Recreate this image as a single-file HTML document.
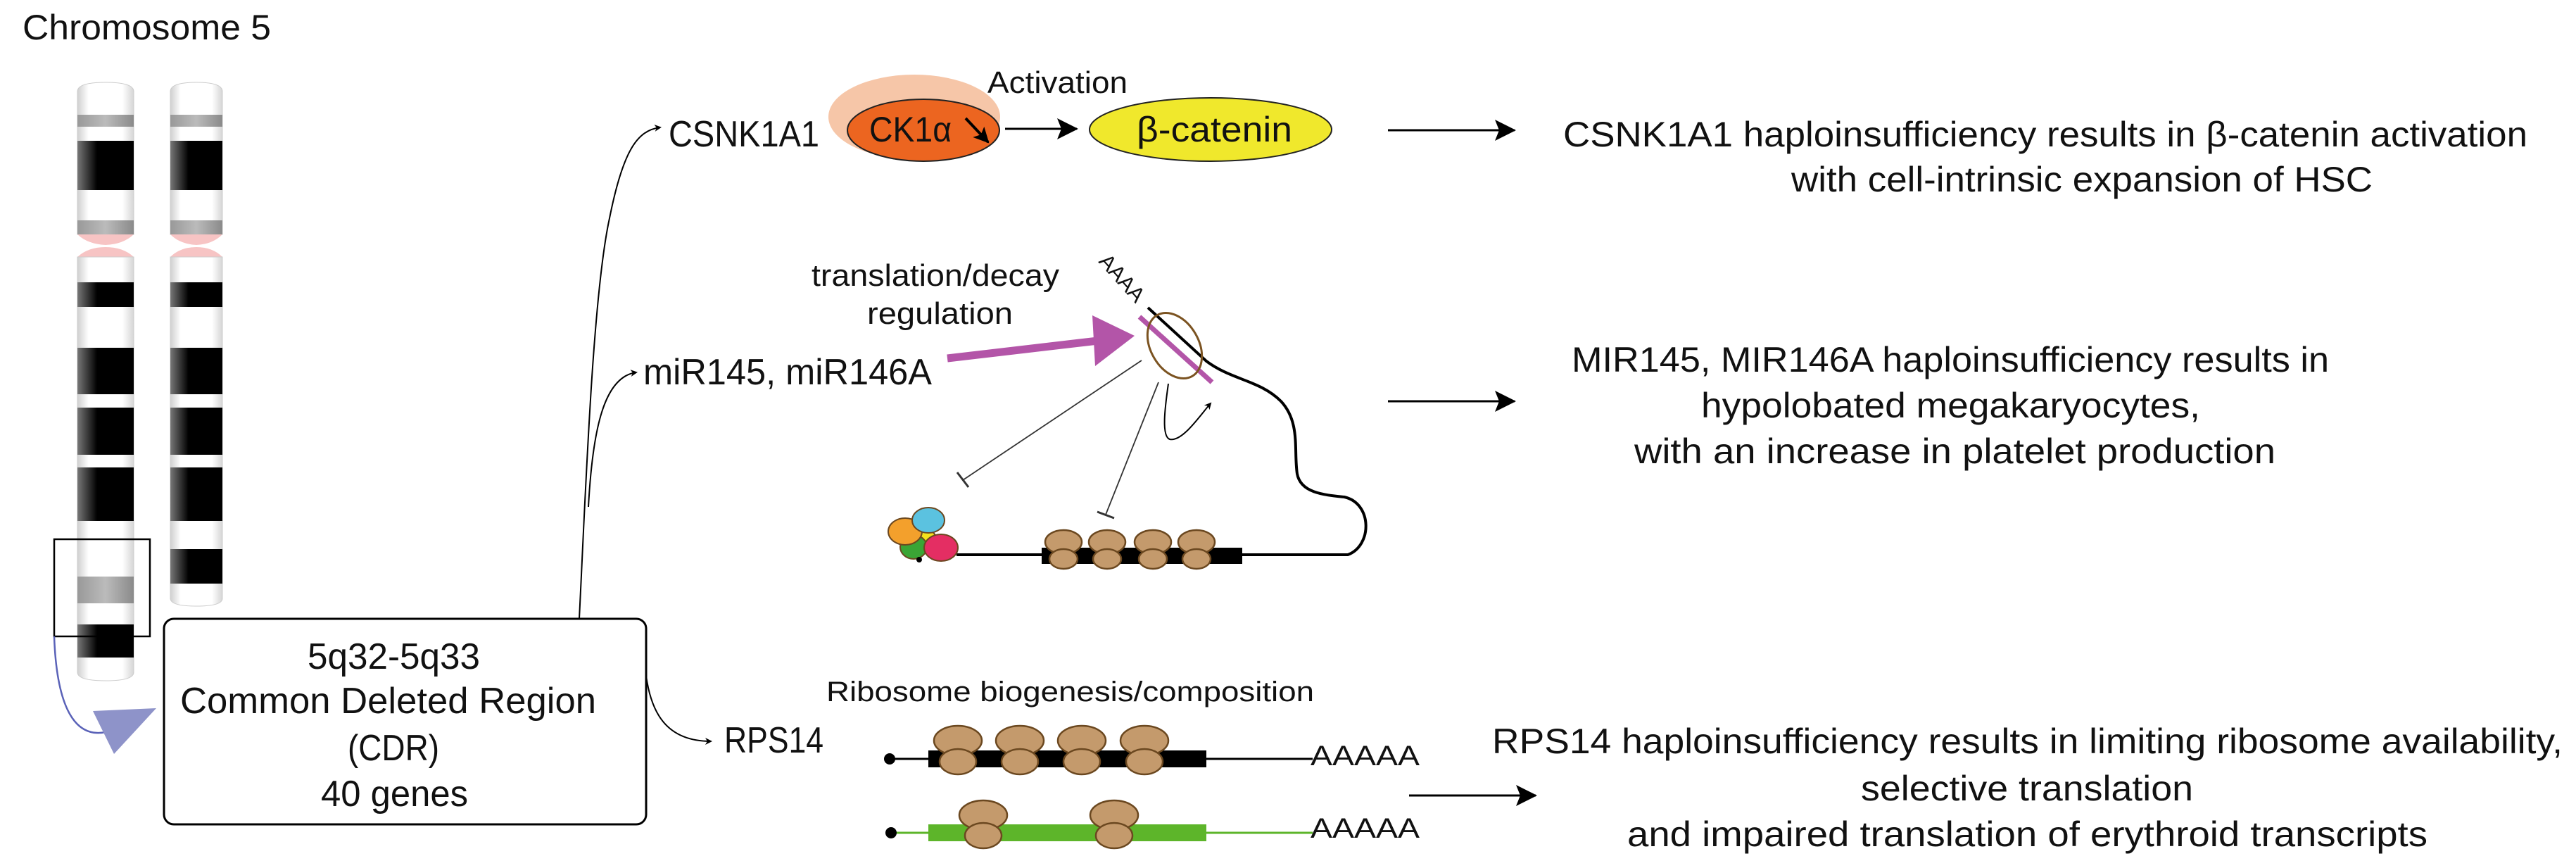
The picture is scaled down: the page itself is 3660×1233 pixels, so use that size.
<!DOCTYPE html>
<html><head><meta charset="utf-8"><style>
html,body{margin:0;padding:0;background:#fff;}
svg{display:block;}
text{font-family:"Liberation Sans",sans-serif;fill:#111;}
</style></head><body>
<svg width="3660" height="1233" viewBox="0 0 3660 1233" xmlns="http://www.w3.org/2000/svg">
<defs>
<linearGradient id="wg" x1="0" x2="1" y1="0" y2="0">
<stop offset="0" stop-color="#cfcfcf"/><stop offset="0.2" stop-color="#fff"/><stop offset="0.8" stop-color="#fff"/><stop offset="1" stop-color="#d5d5d5"/></linearGradient>
<linearGradient id="bg" x1="0" x2="1" y1="0" y2="0">
<stop offset="0" stop-color="#777"/><stop offset="0.35" stop-color="#000"/><stop offset="1" stop-color="#000"/></linearGradient>
<linearGradient id="gg" x1="0" x2="1" y1="0" y2="0">
<stop offset="0" stop-color="#999"/><stop offset="0.5" stop-color="#bbb"/><stop offset="1" stop-color="#8a8a8a"/></linearGradient>
<marker id="ah" markerWidth="10" markerHeight="10" refX="8" refY="5" orient="auto" markerUnits="userSpaceOnUse"><path d="M0,0 L10,5 L0,10 L3,5 z" fill="#000"/></marker>
<marker id="ah3" markerWidth="22" markerHeight="22" refX="20" refY="11" orient="auto" markerUnits="userSpaceOnUse"><path d="M0,0 L22,11 L0,22 L5,11 z" fill="#000"/></marker>
<marker id="ah2" markerWidth="30" markerHeight="30" refX="28" refY="15" orient="auto" markerUnits="userSpaceOnUse"><path d="M0,0 L30,15 L0,30 L6,15 z" fill="#000"/></marker>
</defs>

<text x="32" y="56" font-size="50" textLength="353" lengthAdjust="spacingAndGlyphs">Chromosome 5</text>

<g>
<path d="M110,130 Q110,117 150,117 Q190,117 190,130 L190,333 L110,333 Z" fill="url(#wg)" stroke="#ccc" stroke-width="1"/>
<rect x="110" y="163" width="80" height="17" fill="url(#gg)"/>
<rect x="110" y="200" width="80" height="70" fill="url(#bg)"/>
<rect x="110" y="313" width="80" height="20" fill="url(#gg)"/>
<path d="M110,333 L190,333 Q175,347 150,348 Q125,347 110,333 Z" fill="#f7c4c4"/>
<path d="M110,365 Q125,351 150,351 Q175,351 190,365 Z" fill="#f7c4c4"/>
<path d="M110,365 L190,365 L190,955 Q190,967 150,967 Q110,967 110,955 Z" fill="url(#wg)" stroke="#ccc" stroke-width="1"/>
<rect x="110" y="401" width="80" height="35" fill="url(#bg)"/>
<rect x="110" y="494" width="80" height="66" fill="url(#bg)"/>
<rect x="110" y="579" width="80" height="67" fill="url(#bg)"/>
<rect x="110" y="664" width="80" height="76" fill="url(#bg)"/>
<rect x="110" y="819" width="80" height="38" fill="url(#gg)"/>
<rect x="110" y="887" width="80" height="47" fill="url(#bg)"/>
</g>
<g>
<path d="M242,130 Q242,117 279,117 Q316,117 316,130 L316,333 L242,333 Z" fill="url(#wg)" stroke="#ccc" stroke-width="1"/>
<rect x="242" y="163" width="74" height="17" fill="url(#gg)"/>
<rect x="242" y="200" width="74" height="70" fill="url(#bg)"/>
<rect x="242" y="313" width="74" height="20" fill="url(#gg)"/>
<path d="M242,333 L316,333 Q302,347 279,348 Q256,347 242,333 Z" fill="#f7c4c4"/>
<path d="M242,365 Q256,351 279,351 Q302,351 316,365 Z" fill="#f7c4c4"/>
<path d="M242,365 L316,365 L316,850 Q316,861 279,861 Q242,861 242,850 Z" fill="url(#wg)" stroke="#ccc" stroke-width="1"/>
<rect x="242" y="401" width="74" height="35" fill="url(#bg)"/>
<rect x="242" y="494" width="74" height="66" fill="url(#bg)"/>
<rect x="242" y="579" width="74" height="67" fill="url(#bg)"/>
<rect x="242" y="664" width="74" height="76" fill="url(#bg)"/>
<rect x="242" y="780" width="74" height="49" fill="url(#bg)"/>
</g>
<rect x="77" y="766" width="136" height="138" fill="none" stroke="#000" stroke-width="2.5"/>
<path d="M77,904 C80,990 100,1050 150,1040" fill="none" stroke="#5a62b8" stroke-width="2.5"/>
<polygon points="132,1010 222,1006 162,1071" fill="#8e93c9"/>

<rect x="233" y="879" width="685" height="292" rx="14" fill="#fff" stroke="#000" stroke-width="3"/>
<text x="437" y="950" font-size="52" textLength="245" lengthAdjust="spacingAndGlyphs">5q32-5q33</text>
<text x="256" y="1013" font-size="52" textLength="591" lengthAdjust="spacingAndGlyphs">Common Deleted Region</text>
<text x="494" y="1080" font-size="52" textLength="130" lengthAdjust="spacingAndGlyphs">(CDR)</text>
<text x="456" y="1145" font-size="52" textLength="209" lengthAdjust="spacingAndGlyphs">40 genes</text>

<path d="M823,879 C832,700 842,420 866,310 C885,215 905,185 938,181" fill="none" stroke="#000" stroke-width="2" marker-end="url(#ah)"/>
<path d="M836,720 C842,610 858,535 904,529" fill="none" stroke="#000" stroke-width="2" marker-end="url(#ah)"/>
<path d="M918,960 C925,1010 945,1053 1010,1053" fill="none" stroke="#000" stroke-width="2" marker-end="url(#ah)"/>

<text x="950" y="208" font-size="52" textLength="214" lengthAdjust="spacingAndGlyphs">CSNK1A1</text>
<text x="914" y="546" font-size="52" textLength="410" lengthAdjust="spacingAndGlyphs">miR145, miR146A</text>
<text x="1029" y="1069" font-size="52" textLength="141" lengthAdjust="spacingAndGlyphs">RPS14</text>

<ellipse cx="1299" cy="166" rx="122" ry="60" fill="#f6c6a8"/>
<ellipse cx="1312" cy="185" rx="108" ry="44" fill="#ec6520" stroke="#222" stroke-width="2"/>
<text x="1235" y="201" font-size="50" textLength="117" lengthAdjust="spacingAndGlyphs">CK1α</text>
<path d="M1372,168 L1404,202" stroke="#000" stroke-width="4" marker-end="url(#ah3)"/>
<text x="1403" y="132" font-size="44" textLength="199" lengthAdjust="spacingAndGlyphs">Activation</text>
<path d="M1428,183 L1530,183" stroke="#000" stroke-width="3" marker-end="url(#ah2)"/>
<ellipse cx="1720" cy="184" rx="172" ry="45" fill="#f0e82c" stroke="#222" stroke-width="2"/>
<text x="1615" y="201" font-size="50" textLength="221" lengthAdjust="spacingAndGlyphs">β-catenin</text>

<text x="1153" y="406" font-size="44" textLength="352" lengthAdjust="spacingAndGlyphs">translation/decay</text>
<text x="1232" y="460" font-size="44" textLength="207" lengthAdjust="spacingAndGlyphs">regulation</text>
<line x1="1346" y1="509" x2="1560" y2="484" stroke="#b355a8" stroke-width="11"/>
<polygon points="1552,448 1612,477 1556,520" fill="#b355a8"/>
<text transform="translate(1560,372) rotate(48)" font-size="30" textLength="80" lengthAdjust="spacingAndGlyphs">AAAA</text>
<line x1="1619" y1="450" x2="1722" y2="543" stroke="#b355a8" stroke-width="7"/>
<path d="M1631,437 L1714,513 C1750,540 1790,540 1820,570 C1848,600 1838,640 1843,673 C1848,700 1880,703 1910,706 C1950,715 1950,775 1915,788 L1359,788" fill="none" stroke="#000" stroke-width="4"/>
<ellipse cx="1669" cy="491" rx="34" ry="50" transform="rotate(-30 1669 491)" fill="none" stroke="#7b5321" stroke-width="3"/>
<line x1="1622" y1="512" x2="1368" y2="682" stroke="#333" stroke-width="1.8"/>
<line x1="1360" y1="671" x2="1376" y2="692" stroke="#333" stroke-width="3"/>
<line x1="1646" y1="543" x2="1571" y2="731" stroke="#333" stroke-width="1.8"/>
<line x1="1559" y1="727" x2="1583" y2="736" stroke="#333" stroke-width="3"/>
<path d="M1660,545 C1655,580 1650,620 1662,624 C1680,628 1705,590 1720,573" fill="none" stroke="#000" stroke-width="2" marker-end="url(#ah)"/>
<ellipse cx="1310" cy="766" rx="20" ry="16" fill="#f4e21c" stroke="#6b4820" stroke-width="2"/>
<ellipse cx="1298" cy="777" rx="19" ry="17" fill="#3aa535" stroke="#6b4820" stroke-width="2"/>
<ellipse cx="1286" cy="755" rx="24" ry="19" fill="#f3a02c" stroke="#6b4820" stroke-width="2"/>
<ellipse cx="1319" cy="739" rx="23" ry="18" fill="#5bc2e0" stroke="#6b4820" stroke-width="2"/>
<ellipse cx="1337" cy="778" rx="24" ry="19" fill="#e42e63" stroke="#6b4820" stroke-width="2"/>
<circle cx="1306" cy="795" r="4" fill="#000"/>
<rect x="1480" y="778" width="285" height="23" fill="#000"/>
<g fill="#c49a6c" stroke="#6b4820" stroke-width="2.5">
<ellipse cx="1511" cy="770" rx="26" ry="17"/><ellipse cx="1511" cy="794" rx="20" ry="14"/>
<ellipse cx="1573" cy="770" rx="26" ry="17"/><ellipse cx="1573" cy="794" rx="20" ry="14"/>
<ellipse cx="1638" cy="770" rx="26" ry="17"/><ellipse cx="1638" cy="794" rx="20" ry="14"/>
<ellipse cx="1700" cy="770" rx="26" ry="17"/><ellipse cx="1700" cy="794" rx="20" ry="14"/>
</g>

<text x="1174" y="996" font-size="40" textLength="693" lengthAdjust="spacingAndGlyphs">Ribosome biogenesis/composition</text>
<line x1="1264" y1="1078" x2="1865" y2="1078" stroke="#000" stroke-width="3"/>
<circle cx="1264" cy="1078" r="8" fill="#000"/>
<rect x="1319" y="1066" width="395" height="24" fill="#000"/>
<line x1="1264" y1="1183" x2="1865" y2="1183" stroke="#5db52a" stroke-width="3"/>
<circle cx="1266" cy="1183" r="8" fill="#000"/>
<rect x="1319" y="1171" width="395" height="24" fill="#5db52a"/>
<g fill="#c49a6c" stroke="#6b4820" stroke-width="2.5">
<ellipse cx="1361" cy="1052" rx="34" ry="21"/><ellipse cx="1361" cy="1082" rx="26" ry="18"/>
<ellipse cx="1449" cy="1052" rx="34" ry="21"/><ellipse cx="1449" cy="1082" rx="26" ry="18"/>
<ellipse cx="1537" cy="1052" rx="34" ry="21"/><ellipse cx="1537" cy="1082" rx="26" ry="18"/>
<ellipse cx="1626" cy="1052" rx="34" ry="21"/><ellipse cx="1626" cy="1082" rx="26" ry="18"/>
<ellipse cx="1397" cy="1158" rx="34" ry="21"/><ellipse cx="1397" cy="1187" rx="26" ry="18"/>
<ellipse cx="1583" cy="1158" rx="34" ry="21"/><ellipse cx="1583" cy="1187" rx="26" ry="18"/>
</g>
<text x="1862" y="1087" font-size="40" textLength="155" lengthAdjust="spacingAndGlyphs">AAAAA</text>
<text x="1862" y="1190" font-size="40" textLength="155" lengthAdjust="spacingAndGlyphs">AAAAA</text>

<path d="M1972,185 L2152,185" stroke="#000" stroke-width="3" marker-end="url(#ah2)"/>
<path d="M1972,570 L2152,570" stroke="#000" stroke-width="3" marker-end="url(#ah2)"/>
<path d="M2002,1130 L2182,1130" stroke="#000" stroke-width="3" marker-end="url(#ah2)"/>

<text x="2221" y="208" font-size="50" textLength="1370" lengthAdjust="spacingAndGlyphs">CSNK1A1 haploinsufficiency results in β-catenin activation</text>
<text x="2545" y="272" font-size="50" textLength="826" lengthAdjust="spacingAndGlyphs">with cell-intrinsic expansion of HSC</text>
<text x="2233" y="528" font-size="50" textLength="1076" lengthAdjust="spacingAndGlyphs">MIR145, MIR146A haploinsufficiency results in</text>
<text x="2417" y="593" font-size="50" textLength="709" lengthAdjust="spacingAndGlyphs">hypolobated megakaryocytes,</text>
<text x="2322" y="658" font-size="50" textLength="911" lengthAdjust="spacingAndGlyphs">with an increase in platelet production</text>
<text x="2120" y="1070" font-size="50" textLength="1521" lengthAdjust="spacingAndGlyphs">RPS14 haploinsufficiency results in limiting ribosome availability,</text>
<text x="2644" y="1137" font-size="50" textLength="472" lengthAdjust="spacingAndGlyphs">selective translation</text>
<text x="2312" y="1202" font-size="50" textLength="1137" lengthAdjust="spacingAndGlyphs">and impaired translation of erythroid transcripts</text>
</svg>
</body></html>
